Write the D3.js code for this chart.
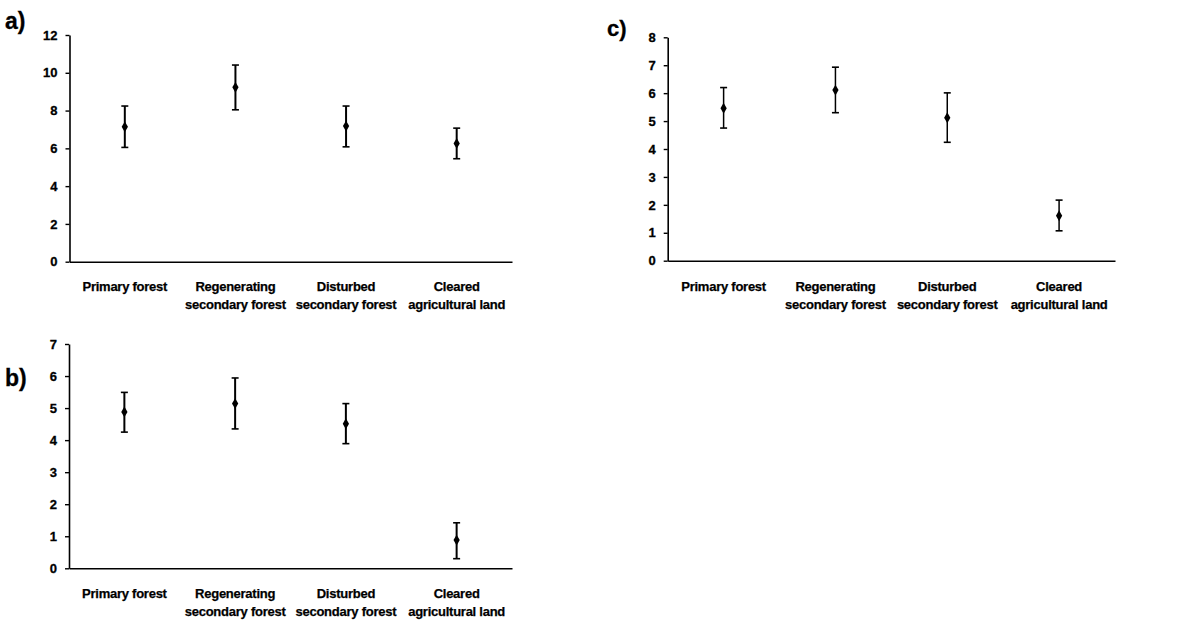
<!DOCTYPE html>
<html>
<head>
<meta charset="utf-8">
<script src="https://cdn.jsdelivr.net/npm/d3@7"></script>
<style>
  html, body { margin: 0; padding: 0; background: #fff; }
  svg { display: block; }
  text { font-family: "Liberation Sans", Arial, sans-serif; font-weight: bold; fill: #000; }
</style>
</head>
<body>
<svg id="chart" width="1191" height="622"></svg>
<script>
// ---- Data ----
const categories = ["Primary forest", "Regenerating secondary forest", "Disturbed secondary forest", "Cleared agricultural land"];
const categoryLines = [["Primary forest"], ["Regenerating", "secondary forest"], ["Disturbed", "secondary forest"], ["Cleared", "agricultural land"]];

const aMean  = [7.14, 9.23, 7.18, 6.26];
const aUpper = [8.24, 10.41, 8.24, 7.07];
const aLower = [6.05, 8.04, 6.08, 5.45];
const aTicks = [0, 2, 4, 6, 8, 10, 12];

const bMean  = [4.88, 5.14, 4.51, 0.88];
const bUpper = [5.49, 5.94, 5.14, 1.42];
const bLower = [4.25, 4.35, 3.89, 0.30];
const bTicks = [0, 1, 2, 3, 4, 5, 6, 7];

const cMean  = [5.46, 6.11, 5.12, 1.61];
const cUpper = [6.20, 6.93, 6.01, 2.17];
const cLower = [4.75, 5.30, 4.24, 1.07];
const cTicks = [0, 1, 2, 3, 4, 5, 6, 7, 8];

const panelLabels = ["a)", "b)", "c)"];

// ---- Drawing ----
const svg = d3.select("#chart");

function drawPanel(opt) {
  const g = svg.append("g");
  const x = d3.scaleBand().domain(categories).range([opt.left, opt.right]).padding(0);
  const y = d3.scaleLinear().domain([0, d3.max(opt.ticks)]).range([opt.bottom, opt.top]);

  // y axis
  const yAxis = d3.axisLeft(y).tickValues(opt.ticks).tickSize(4).tickSizeOuter(0).tickPadding(8)
    .tickFormat(d3.format("d"));
  const ya = g.append("g").attr("transform", `translate(${opt.left},0)`).call(yAxis);
  ya.select(".domain").attr("stroke", "#000").attr("stroke-width", 1.6);
  ya.selectAll(".tick line").attr("stroke", "#000").attr("stroke-width", 1.4);
  ya.selectAll(".tick text").style("font-size", "13px").style("font-family", '"Liberation Sans", Arial, sans-serif')
    .style("font-weight", "bold").attr("fill", "#000")
    .attr("stroke", "#000").attr("stroke-width", 0.3);

  // x axis
  const xAxis = d3.axisBottom(x).tickSize(0).tickSizeOuter(0).tickFormat("");
  const xa = g.append("g").attr("transform", `translate(0,${opt.bottom})`).call(xAxis);
  xa.select(".domain").attr("stroke", "#000").attr("stroke-width", 1.6);

  // category labels
  categories.forEach((c, i) => {
    const t = g.append("text")
      .attr("x", x(c) + x.bandwidth() / 2)
      .attr("y", opt.labelY)
      .attr("text-anchor", "middle")
      .attr("stroke", "#000").attr("stroke-width", 0.25)
      .style("font-size", "13px")
      .style("letter-spacing", "-0.25px");
    categoryLines[i].forEach((line, j) => {
      t.append("tspan").attr("x", x(c) + x.bandwidth() / 2).attr("dy", j === 0 ? 0 : 18).text(line);
    });
  });

  // error bars
  const capW = 3.5;
  categories.forEach((c, i) => {
    const cx = x(c) + x.bandwidth() / 2;
    g.append("line").attr("x1", cx).attr("x2", cx)
      .attr("y1", y(opt.upper[i])).attr("y2", y(opt.lower[i]))
      .attr("stroke", "#000").attr("stroke-width", opt.barW);
    [opt.upper[i], opt.lower[i]].forEach(v => {
      g.append("line").attr("x1", cx - capW).attr("x2", cx + capW)
        .attr("y1", y(v)).attr("y2", y(v))
        .attr("stroke", "#000").attr("stroke-width", 1.6);
    });
    g.append("path")
      .attr("d", d3.symbol().type(d3.symbolDiamond).size(34)())
      .attr("transform", `translate(${cx},${y(opt.mean[i])})`)
      .attr("fill", "#000");
  });

  // panel label
  svg.append("text").attr("x", opt.plX).attr("y", opt.plY)
    .attr("stroke", "#000").attr("stroke-width", 0.3)
    .style("font-size", opt.plSize + "px").text(opt.label);
}

drawPanel({ left: 69.5, right: 512, top: 35, bottom: 261.7, ticks: aTicks,
  mean: aMean, upper: aUpper, lower: aLower, labelY: 290.5, barW: 2,
  label: panelLabels[0], plX: 5, plY: 29, plSize: 23 });
drawPanel({ left: 69, right: 512, top: 344, bottom: 568.3, ticks: bTicks,
  mean: bMean, upper: bUpper, lower: bLower, labelY: 598, barW: 2,
  label: panelLabels[1], plX: 5, plY: 386, plSize: 23 });
drawPanel({ left: 667.7, right: 1115, top: 37.3, bottom: 260.7, ticks: cTicks,
  mean: cMean, upper: cUpper, lower: cLower, labelY: 290.5, barW: 1.5,
  label: panelLabels[2], plX: 607, plY: 36, plSize: 22 });
</script>
</body>
</html>
